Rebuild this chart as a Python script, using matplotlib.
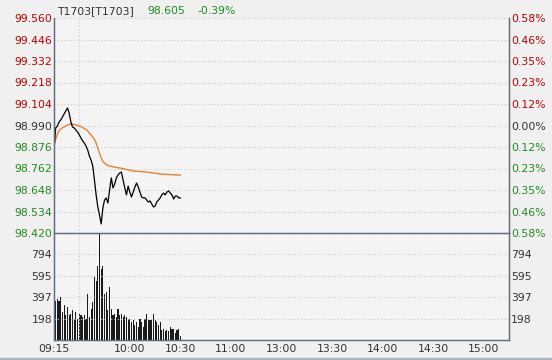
import matplotlib
matplotlib.use("Agg")
import matplotlib.pyplot as plt
from matplotlib.lines import Line2D

# contrat et dernier cours
code = "T1703[T1703]"
dernier = 98.605
variation = "-0.39%"
cloture_veille = 98.990
pas_prix = 0.114

# prix minute par minute depuis 09:15
prix = [98.860, 98.977, 98.987, 99.009, 99.019, 99.035, 99.051, 99.067, 99.083, 99.056,
        99.009, 98.982, 98.977, 98.966, 98.956, 98.940, 98.924, 98.908, 98.897, 98.881,
        98.860, 98.828, 98.807, 98.775, 98.701, 98.622, 98.558, 98.515, 98.468, 98.553,
        98.595, 98.606, 98.579, 98.648, 98.712, 98.659, 98.680, 98.712, 98.728, 98.738,
        98.743, 98.701, 98.659, 98.622, 98.669, 98.637, 98.611, 98.637, 98.664, 98.685,
        98.664, 98.637, 98.611, 98.606, 98.606, 98.595, 98.584, 98.590, 98.574, 98.558,
        98.563, 98.584, 98.595, 98.606, 98.622, 98.632, 98.622, 98.637, 98.643, 98.632,
        98.622, 98.600, 98.616, 98.616, 98.606, 98.606]

# prix moyen
moyen = [98.887, 98.918, 98.945, 98.961, 98.971, 98.977, 98.982, 98.987, 98.993, 98.995,
         98.998, 98.998, 98.995, 98.993, 98.990, 98.987, 98.985, 98.979, 98.974, 98.969,
         98.961, 98.950, 98.940, 98.929, 98.916, 98.897, 98.871, 98.844, 98.818, 98.799,
         98.791, 98.783, 98.778, 98.775, 98.773, 98.771, 98.770, 98.767, 98.766, 98.765,
         98.763, 98.761, 98.759, 98.757, 98.755, 98.753, 98.751, 98.749, 98.748, 98.747,
         98.747, 98.746, 98.745, 98.745, 98.744, 98.743, 98.742, 98.741, 98.739, 98.738,
         98.737, 98.736, 98.734, 98.733, 98.732, 98.732, 98.731, 98.731, 98.730, 98.730,
         98.729, 98.729, 98.728, 98.728, 98.727, 98.727]

volumes = [458, 366, 381, 366, 400, 262, 326, 228, 308, 228,
           244, 274, 198, 262, 198, 244, 228, 216, 228, 198,
           427, 216, 290, 354, 582, 549, 687, 993, 656, 687,
           427, 445, 274, 491, 290, 228, 244, 216, 290, 228,
           244, 216, 228, 216, 198, 198, 170, 183, 137, 170,
           125, 198, 170, 125, 198, 244, 198, 183, 198, 244,
           183, 170, 137, 170, 91, 106, 79, 91, 79, 125,
           106, 106, 61, 91, 106, 33]
vol_max = 993

heures_labels = ["09:15", "10:00", "10:30", "11:00", "13:00", "13:30", "14:00", "14:30", "15:00"]
heures_grille = ["09:30", "10:00", "10:30", "11:00", "13:00", "13:30", "14:00", "14:30", "15:00"]


def minutes(h):
    # minutes de séance depuis 09:15 (pause de 11:30 à 13:00)
    hh, mm = int(h[:2]), int(h[3:])
    t = hh * 60 + mm
    if t >= 13 * 60:
        return t - 13 * 60 + 135
    return t - (9 * 60 + 15)


ROUGE = "#c00000"
VERT = "#1e8c1e"
GRIS = "#333333"
fond = "#f0f0f0"

fig = plt.figure(figsize=(5.52, 3.60), dpi=100, facecolor=fond)
ax = fig.add_axes([54/552, 1-233/360, 455/552, 215/360], facecolor="#f4f4f4")
axv = fig.add_axes([54/552, 1-340/360, 455/552, 107/360], facecolor="#f4f4f4", sharex=ax)

x = list(range(len(prix)))
ax.plot(x, moyen, color="#e8822e", lw=1.0)
ax.plot(x, prix, color="black", lw=0.9)
axv.bar(x, volumes, width=0.68, color="#1a1a1a", linewidth=0)

ax.set_xlim(0, 270)
ax.set_ylim(cloture_veille - 5*pas_prix, cloture_veille + 5*pas_prix)
axv.set_ylim(0, vol_max)

niveaux = [cloture_veille + k*pas_prix for k in range(-5, 6)]
ax.set_yticks(niveaux)
ax.set_yticklabels(["%.3f" % v for v in niveaux])
for lab, v in zip(ax.get_yticklabels(), niveaux):
    lab.set_color(ROUGE if v > cloture_veille + 1e-6 else (VERT if v < cloture_veille - 1e-6 else GRIS))

ax2 = ax.twinx()
ax2.set_ylim(ax.get_ylim())
ax2.set_yticks(niveaux)
ax2.set_yticklabels(["%.2f%%" % (abs(v - cloture_veille) / cloture_veille * 100) for v in niveaux])
for lab, v in zip(ax2.get_yticklabels(), niveaux):
    lab.set_color(ROUGE if v > cloture_veille + 1e-6 else (VERT if v < cloture_veille - 1e-6 else GRIS))

vticks = [vol_max * k / 5 for k in range(1, 5)]
axv.set_yticks(vticks)
axv.set_yticklabels([str(int(v)) for v in vticks])
axv2 = axv.twinx()
axv2.set_ylim(axv.get_ylim())
axv2.set_yticks(vticks)
axv2.set_yticklabels([str(int(v)) for v in vticks])

axv.set_xticks([minutes(h) for h in heures_labels])
axv.set_xticklabels(heures_labels)
ax.set_xticks([minutes(h) for h in heures_grille], minor=True)
axv.set_xticks([minutes(h) for h in heures_grille], minor=True)

for a in (ax, axv):
    a.grid(False)
    a.xaxis.grid(True, which="minor", color="#c8c8c8", ls=(0, (1, 2)), lw=0.8)
    a.yaxis.grid(True, color="#c8c8c8", ls=(0, (1, 2)), lw=0.8)
    a.tick_params(which="both", length=0)
ax.tick_params(axis="x", labelbottom=False)
ax.tick_params(axis="y", labelsize=7.8, pad=1.5)
axv.tick_params(axis="y", labelsize=7.8, pad=1.5, labelcolor=GRIS)
axv.tick_params(axis="x", labelsize=7.8, pad=3, labelcolor=GRIS)
for a in (ax2, axv2):
    a.tick_params(length=0, labelsize=7.8, pad=1.5)
axv2.tick_params(labelcolor=GRIS)

cadre = "#5f6d7e"
for a in (ax, axv, ax2, axv2):
    for s in a.spines.values():
        s.set_color(cadre)
        s.set_linewidth(0.9)
for a in (ax, ax2):
    a.spines["top"].set_visible(False)
    a.spines["bottom"].set_visible(False)
# ligne de séparation prix / volume
axv.spines["top"].set_visible(True)
axv.spines["top"].set_zorder(5)

fig.text(57/552, 1-11/360, code, fontsize=7.8, color=GRIS, va="center")
fig.text(147/552, 1-11/360, "%.3f" % dernier, fontsize=7.8, color=VERT, va="center")
fig.text(197/552, 1-11/360, variation, fontsize=7.8, color=VERT, va="center")

fig.add_artist(Line2D([0, 1], [1.5/360, 1.5/360], transform=fig.transFigure, color="#aab6c6", lw=2.5))

fig.savefig("out.png", dpi=100, facecolor=fond)
